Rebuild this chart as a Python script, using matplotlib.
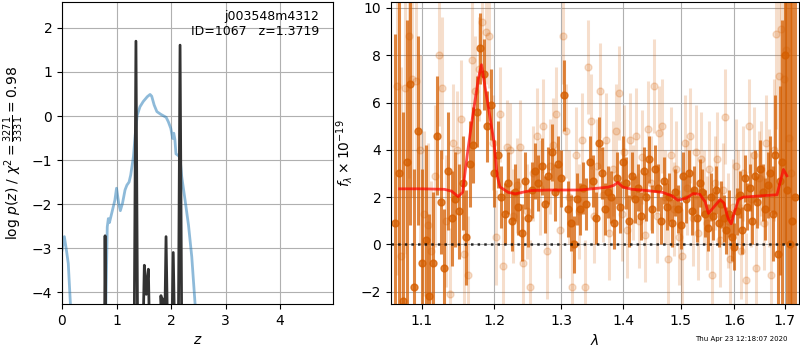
import matplotlib
matplotlib.use('Agg')
import matplotlib.pyplot as plt
import numpy as np
from matplotlib.ticker import NullLocator, NullFormatter, FixedLocator, FixedFormatter

# ---- left panel: redshift fit ----
z_chi = [0.0, 0.043, 0.085, 0.115, 0.16, 0.20, 0.50, 0.78, 0.83, 0.85, 0.87, 0.89, 0.97, 1.00,
         1.04, 1.07, 1.11, 1.156, 1.19, 1.23, 1.26, 1.31, 1.345, 1.38, 1.43, 1.49, 1.565, 1.615,
         1.645, 1.69, 1.74, 1.81, 1.91, 1.95, 1.995, 2.03, 2.05, 2.07, 2.09, 2.135, 2.165, 2.196,
         2.257, 2.32, 2.38, 2.44, 2.55]
chi_curve = [-3.05, -2.74, -3.08, -3.35, -4.4, -6.0, -8.0, -6.0, -2.52, -2.33, -2.42, -2.32, -1.91,
             -1.64, -1.98, -2.15, -1.98, -1.68, -1.57, -1.50, -1.34, -0.92, -0.39, 0.02, 0.21, 0.33,
             0.44, 0.49, 0.45, 0.25, 0.10, 0.04, -0.03, -0.13, -0.28, -0.51, -0.39, -0.53, -0.86,
             -0.90, -0.95, -1.38, -1.91, -2.48, -3.20, -4.26, -6.0]

z_pdf = [0.70, 0.76, 0.79, 0.83, 1.30, 1.356, 1.41, 1.47, 1.51, 1.545, 1.584, 1.62, 1.79, 1.815,
         1.83, 1.845, 1.87, 1.908, 1.95, 2.00, 2.04, 2.08, 2.11, 2.165, 2.22, 2.40]
log_pdf = [-10, -10, -2.72, -10, -10, 1.70, -10, -6, -3.39, -4.05, -3.48, -6, -6, -4.08,
           -4.4, -4.15, -6, -2.74, -6, -6, -3.10, -6, -10, 1.61, -10, -10]

# ---- right panel: spectrum ----
wave_a = np.round(np.arange(1.065, 1.7201, 0.005), 4)
flux_a = [0.9, 3.0, -2.4, 3.5, 6.8, -1.8, 4.8, -0.8, 0.2, -2.2,
          -0.8, 4.6, 1.8, -1.0, 3.1, 1.1, 1.9, 1.4, 2.6, 0.3,
          3.4, 4.2, 5.6, 8.3, 7.2, 5.0, 5.9, 3.0, 3.8, 2.0,
          1.3, 2.6, 1.0, 2.2, 1.6, 0.5, 2.7, 1.1, 2.3, 3.1,
          2.6, 3.3, 1.7, 2.9, 3.9, 2.2, 3.4, 2.8, 6.3, 1.5,
          0.9, 0.0, 1.9, 1.5, 2.4, 1.7, 3.5, 2.7, 1.1, 4.3,
          3.0, 1.5, 2.2, 2.0, 0.9, 2.8, 1.6, 3.5, 2.6, 1.0,
          2.9, 1.9, 2.4, 1.2, 3.1, 2.0, 3.6, 1.5, 3.2, 2.4,
          1.0, 2.7, 1.6, 2.0, 0.9, 2.2, 1.5, 0.8, 2.9, 1.9,
          3.0, 1.4, 2.3, 1.1, 2.6, 2.2, 1.3, 0.7, 2.0, 1.2,
          2.3, 0.9, 1.7, 1.1, 0.6, 1.3, 0.3, -0.1, 1.4, 2.1,
          0.6, 2.8, 1.6, 2.4, 1.0, 2.9, 1.8, 3.2, 2.2, 1.5,
          2.5, 3.0, 1.3, 3.8, -0.4, 2.7, 3.5, 8.0, 2.3, 0.0,
          1.0, 2.0]
err_a = [8, 8, 8, 6, 6, 5, 4, 4, 4, 3.5,
         3, 2.5, 2.2, 2.5, 2.5, 2, 2, 2, 2, 2,
         1.8, 1.6, 1.5, 1.5, 1.5, 1.5, 1.5, 1.4, 1.4, 1.3,
         1.3, 1.3, 1.3, 1.2, 1.2, 1.2, 1.2, 1.2, 1.2, 1.2,
         1.2, 1.2, 1.2, 1.2, 1.2, 1.2, 1.2, 1.2, 1.5, 1.2,
         1.2, 1.2, 1.1, 1.1, 1.1, 1.1, 1.1, 1.1, 1.1, 1.1,
         1.1, 1.1, 1.1, 1.1, 1.1, 1.1, 1.1, 1.1, 1.1, 1.1,
         1.0, 1.0, 1.0, 1.0, 1.0, 1.0, 1.0, 1.0, 1.0, 1.0,
         1.0, 1.0, 1.0, 1.0, 1.0, 1.0, 1.0, 1.0, 1.0, 1.0,
         1.0, 1.0, 1.0, 1.0, 1.0, 1.0, 1.0, 1.0, 1.0, 1.0,
         1.0, 1.0, 1.0, 1.0, 1.0, 1.0, 1.0, 1.0, 1.0, 1.0,
         1.0, 1.0, 1.0, 1.0, 1.0, 1.1, 1.1, 1.2, 1.2, 1.3,
         1.4, 1.6, 2.0, 2.5, 3, 4, 6, 8, 10, 12,
         12, 12]

wave_b = np.round(np.arange(1.0675, 1.7126, 0.005), 4)
flux_b = [6.7, -0.5, 6.6, 8.8, 7.0, 6.9, 4.0, 1.3, 0.8, -0.3,
          2.9, 8.0, 6.6, 1.0, -2.1, 4.3, 4.0, 5.3, -0.4, -1.3,
          7.8, 6.5, 7.4, 9.4, 9.0, 8.8, 4.3, 0.3, 5.5, -0.9,
          4.1, 4.0, 1.2, 2.5, 4.1, -0.8, 1.4, -1.8, 3.0, 4.6,
          2.4, 5.0, -0.3, 3.3, 4.2, 5.5, 0.6, 8.8, 4.8, 2.0,
          -1.8, 3.8, 1.4, 4.4, -1.8, 7.5, 5.2, 1.2, 3.3, 6.5,
          2.1, 4.4, 0.5, 3.2, 4.8, 6.4, 1.3, 3.9, 0.6, 4.4,
          2.2, 4.6, 1.0, 3.7, 0.4, 4.9, 2.6, 6.7, 1.2, 4.7,
          5.0, 2.0, -0.6, 3.8, 1.5, 3.2, 0.3, -0.5, 4.3, 2.4,
          4.6, 1.1, 3.9, 0.5, 3.6, 2.0, 0.9, 3.2, -1.3, 2.6,
          3.6, 0.2, 2.3, 5.4, 1.0, -0.6, 1.6, 3.3, 2.0, -0.3,
          3.0, -1.5, 5.0, 1.9, 3.8, -1.0, 2.8, 3.2, 0.9, 4.3,
          2.4, -1.3, 4.0, 8.9, 7.1, 9.1, 7.0, 8.2, 4.5, 3.0]
err_b = [8, 8, 7, 6, 5, 4.5, 4, 3.5, 3.5, 3,
         3, 3, 3, 2.8, 2.8, 2.5, 2.5, 2.5, 2.5, 2.5,
         2.5, 2.3, 2.2, 2.2, 2.2, 2.2, 2, 2, 2, 2,
         2, 2, 2, 2, 2, 2, 2, 2, 2, 2,
         2, 2, 2, 2, 2, 2, 2, 2, 2, 2,
         2, 2, 2, 2, 2, 2, 2, 2, 2, 2,
         2, 2, 2, 2, 2, 2, 2, 2, 2, 2,
         2, 2, 2, 2, 2, 2, 2, 2, 2, 2,
         2, 2, 2, 2, 2, 2, 2, 2, 2, 2,
         2, 2, 2, 2, 2, 2, 2, 2, 2, 2,
         2, 2, 2, 2, 2, 2, 2, 2, 2, 2,
         2, 2, 2, 2, 2, 2, 2, 2, 2, 2,
         2.5, 2.5, 3, 4, 5, 6, 7, 8, 9, 10]

wave_model = [1.071, 1.10, 1.13, 1.14, 1.149, 1.155, 1.162, 1.167, 1.172, 1.177, 1.1815,
              1.188, 1.194, 1.199, 1.204, 1.208, 1.22, 1.2305, 1.254, 1.28, 1.30, 1.33,
              1.356, 1.375, 1.385, 1.391, 1.40, 1.415, 1.44, 1.468, 1.485, 1.495, 1.51,
              1.523, 1.535, 1.545, 1.551, 1.56, 1.573, 1.58, 1.588, 1.594, 1.60, 1.608,
              1.617, 1.65, 1.684, 1.69, 1.697, 1.704]
flux_model = [2.35, 2.35, 2.33, 2.25, 2.02, 2.2, 3.9, 5.0, 6.0, 7.0, 7.6,
              6.4, 5.3, 4.4, 2.9, 2.43, 2.2, 2.14, 2.28, 2.3, 2.3, 2.3,
              2.37, 2.42, 2.5, 2.62, 2.42, 2.33, 2.28, 2.2, 2.05, 1.87, 1.95,
              2.15, 2.12, 1.8, 1.31, 1.55, 1.9, 1.75, 1.1, 0.87, 1.35, 1.9,
              2.0, 2.05, 2.1, 2.6, 3.17, 2.9]

label_field = 'j003548m4312'
label_id = 'ID=1067   z=1.3719'
timestamp = 'Thu Apr 23 12:18:07 2020'

grism_color = (0.835, 0.369, 0.0)

fig = plt.figure(figsize=(8, 3.5), dpi=100)
ax1 = fig.add_axes([62/800, 46/350, 271/800, 302/350])
ax2 = fig.add_axes([391/800, 46/350, 408/800, 302/350])

# p(z)
ax1.plot(z_chi, chi_curve, color='tab:blue', alpha=0.5, lw=2)
ax1.plot(z_pdf, log_pdf, color='0.2', lw=2)
ax1.set_xlim(0, 4.97)
ax1.set_ylim(-4.27, 2.59)
ax1.set_xticks([0, 1, 2, 3, 4])
ax1.set_yticks([-4, -3, -2, -1, 0, 1, 2])
ax1.grid(True)
ax1.set_xlabel(r'$z$')
ax1.set_ylabel(r'$\log\,p(z)$ / $\chi^2=\frac{3271}{3331}=0.98$')
ax1.text(0.95, 0.975, label_field + '\n' + label_id, ha='right', va='top',
         transform=ax1.transAxes, fontsize=9)

# spectrum
ax2.errorbar(wave_b, flux_b, yerr=err_b, marker='o', ms=5, linestyle='None',
             color=grism_color, alpha=0.2, elinewidth=2.2, capsize=0)
ax2.errorbar(wave_a, flux_a, yerr=err_a, marker='o', ms=5, linestyle='None',
             color=grism_color, alpha=0.75, elinewidth=2.2, capsize=0)
ax2.plot(wave_model, flux_model, color='r', alpha=0.7, lw=2, zorder=5)
ax2.axhline(0, color='k', linestyle=':', lw=1.8, alpha=0.8, zorder=6)

ax2.set_xscale('log')
ax2.set_xlim(1.06, 1.729)
ax2.set_ylim(-2.52, 10.25)
wticks = [1.1, 1.2, 1.3, 1.4, 1.5, 1.6, 1.7]
ax2.xaxis.set_major_locator(FixedLocator(wticks))
ax2.xaxis.set_major_formatter(FixedFormatter(['%.1f' % w for w in wticks]))
ax2.xaxis.set_minor_locator(NullLocator())
ax2.xaxis.set_minor_formatter(NullFormatter())
ax2.set_yticks([-2, 0, 2, 4, 6, 8, 10])
ax2.grid(True)
ax2.set_xlabel(r'$\lambda$')
ax2.set_ylabel(r'$f_\lambda\times10^{-19}$')

fig.text(0.927, 0.031, timestamp, ha='center', va='center', fontsize=5)

fig.savefig('out.png', dpi=100)
